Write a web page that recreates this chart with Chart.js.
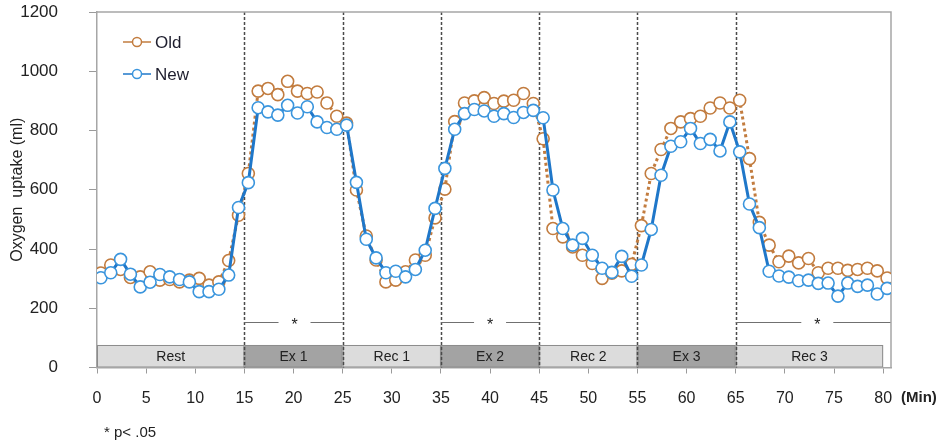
<!DOCTYPE html>
<html>
<head>
<meta charset="utf-8">
<script src="https://cdn.jsdelivr.net/npm/chart.js@4.4.1/dist/chart.umd.min.js"></script>
<style>
  html, body { margin: 0; padding: 0; background: #fff; }
  #wrap { width: 944px; height: 448px; }
</style>
</head>
<body>
<div id="wrap"><canvas id="chart" width="944" height="448"></canvas></div>
<script>
// one sample per minute
const oldValues = [
  319, 346, 331, 304, 306, 323, 295, 297, 289, 295, 301, 278, 289, 361, 514,
  655, 933, 942, 921, 966, 933, 925, 930, 893, 848, 825,
  599, 444, 363, 289, 295, 323, 363, 379, 505, 602,
  830, 893, 900, 911, 891, 899, 902, 925, 891, 772,
  469, 441, 407, 379, 351, 301, 318, 326, 348, 479,
  655, 736, 807, 829, 840, 848, 876, 893, 876, 902,
  705, 490, 413, 357, 376, 353, 368, 320, 335, 335, 328, 331, 335, 326, 302
];
const newValues = [
  303, 320, 365, 315, 272, 288, 314, 306, 297, 289, 256, 256, 264, 312, 540,
  624, 877, 863, 852, 885, 859, 880, 829, 810, 804, 818,
  625, 433, 370, 320, 325, 306, 331, 396, 537, 672,
  804, 857, 871, 866, 848, 857, 844, 861, 868, 843,
  599, 469, 413, 436, 379, 335, 321, 375, 308, 346,
  466, 649, 747, 762, 807, 756, 770, 731, 829, 728,
  552, 472, 325, 309, 305, 293, 295, 284, 285, 241, 285, 274, 278, 248, 267
];
const sampleOffset = 0.4; // samples sit a little right of each whole minute

const xTicks = [0, 5, 10, 15, 20, 25, 30, 35, 40, 45, 50, 55, 60, 65, 70, 75, 80];
const yTicks = [0, 200, 400, 600, 800, 1000, 1200];

const phaseNames = ['Rest', 'Ex 1', 'Rec 1', 'Ex 2', 'Rec 2', 'Ex 3', 'Rec 3'];
const phaseStart = [0, 15, 25, 35, 45, 55, 65];
const phaseEnd = [15, 25, 35, 45, 55, 65, 80];
const phaseExercise = [false, true, false, true, false, true, false];
const phaseBarTop = 76;

const boundaries = [15, 25, 35, 45, 55, 65];

const sigFrom = [15, 35, 65];
const sigTo = [25, 45, 80.8];
const sigStar = [20.1, 40, 73.3];
const sigLevel = 152;

const OLD_COLOR = '#C27C3F';
const NEW_LINE = '#1F77C9';
const NEW_MARK = '#3A95DD';
const FONT = '"Liberation Sans", Arial, sans-serif';

const overlay = {
  id: 'overlay',
  beforeDatasetsDraw(chart) {
    const { ctx, chartArea: a, scales: { x, y } } = chart;
    ctx.save();

    // phase bar
    const top = y.getPixelForValue(phaseBarTop), bot = y.getPixelForValue(0);
    phaseNames.forEach((name, i) => {
      const l = x.getPixelForValue(phaseStart[i]), r = x.getPixelForValue(phaseEnd[i]);
      ctx.fillStyle = phaseExercise[i] ? '#a3a3a3' : '#dcdcdc';
      ctx.fillRect(l, top, r - l, bot - top);
      ctx.strokeStyle = '#8c8c8c';
      ctx.lineWidth = 1;
      ctx.strokeRect(l + 0.5, top + 0.5, r - l - 1, bot - top - 1);
      ctx.fillStyle = '#222';
      ctx.font = '14px ' + FONT;
      ctx.textAlign = 'center';
      ctx.textBaseline = 'middle';
      ctx.fillText(name, (l + r) / 2, (top + bot) / 2 + 1);
    });

    // phase boundaries
    ctx.strokeStyle = '#4a4a4a';
    ctx.lineWidth = 1.5;
    ctx.setLineDash([3, 2]);
    boundaries.forEach(b => {
      const px = Math.round(x.getPixelForValue(b)) + 0.5;
      ctx.beginPath();
      ctx.moveTo(px, a.top);
      ctx.lineTo(px, a.bottom);
      ctx.stroke();
    });
    ctx.setLineDash([]);

    // significance brackets
    const sy = Math.round(y.getPixelForValue(sigLevel)) + 0.5;
    ctx.strokeStyle = '#707070';
    ctx.lineWidth = 1;
    sigFrom.forEach((f, i) => {
      const l = x.getPixelForValue(f), r = x.getPixelForValue(sigTo[i]);
      const m = x.getPixelForValue(sigStar[i]);
      ctx.beginPath();
      ctx.moveTo(l, sy); ctx.lineTo(m - 16, sy);
      ctx.moveTo(m + 16, sy); ctx.lineTo(r, sy);
      ctx.stroke();
      ctx.fillStyle = '#222';
      ctx.font = '16px ' + FONT;
      ctx.textAlign = 'center';
      ctx.textBaseline = 'middle';
      ctx.fillText('*', m, sy + 3);
    });

    // frame top and right
    ctx.strokeStyle = '#a6a6a6';
    ctx.lineWidth = 1.5;
    ctx.beginPath();
    ctx.moveTo(a.left, a.top);
    ctx.lineTo(a.right, a.top);
    ctx.lineTo(a.right, a.bottom);
    ctx.stroke();
    ctx.restore();
  },
  afterDraw(chart) {
    const { ctx } = chart;
    ctx.save();
    // legend
    const items = [
      { label: 'Old', line: OLD_COLOR, mark: OLD_COLOR, y: 42 },
      { label: 'New', line: NEW_LINE, mark: NEW_MARK, y: 74 }
    ];
    items.forEach(it => {
      ctx.strokeStyle = it.line;
      ctx.lineWidth = 1.5;
      ctx.beginPath();
      ctx.moveTo(123, it.y); ctx.lineTo(151, it.y);
      ctx.stroke();
      ctx.fillStyle = '#fff';
      ctx.strokeStyle = it.mark;
      ctx.beginPath();
      ctx.arc(137, it.y, 4.5, 0, Math.PI * 2);
      ctx.fill(); ctx.stroke();
      ctx.fillStyle = '#1e1e2e';
      ctx.font = '17px ' + FONT;
      ctx.textAlign = 'left';
      ctx.textBaseline = 'middle';
      ctx.fillText(it.label, 155, it.y + 1);
    });
    // axis unit + footnote
    ctx.fillStyle = '#222';
    ctx.font = 'bold 15px ' + FONT;
    ctx.textAlign = 'left';
    ctx.textBaseline = 'middle';
    ctx.fillText('(Min)', 901, 398);
    ctx.font = '15px ' + FONT;
    ctx.fillText('* p< .05', 104, 433);
    ctx.restore();
  }
};

const toPoints = vals => vals.map((v, i) => ({ x: i + sampleOffset, y: v }));

new Chart(document.getElementById('chart'), {
  type: 'line',
  data: {
    datasets: [
      {
        label: 'New', data: toPoints(newValues), order: 0,
        borderColor: NEW_LINE, borderWidth: 3,
        pointRadius: 6, pointBorderWidth: 1.6,
        pointBorderColor: NEW_MARK, pointBackgroundColor: '#fff',
        tension: 0
      },
      {
        label: 'Old', data: toPoints(oldValues), order: 1,
        borderColor: OLD_COLOR, borderWidth: 3, borderDash: [3, 3],
        pointRadius: 6, pointBorderWidth: 1.6,
        pointBorderColor: OLD_COLOR, pointBackgroundColor: '#fff',
        tension: 0
      }
    ]
  },
  options: {
    responsive: false,
    animation: false,
    devicePixelRatio: 1,
    layout: { padding: { top: 12, right: 53, left: 0, bottom: 0 } },
    plugins: { legend: { display: false }, tooltip: { enabled: false } },
    scales: {
      x: {
        type: 'linear', min: 0, max: 80.8,
        afterBuildTicks: s => { s.ticks = xTicks.map(v => ({ value: v })); },
        afterFit: s => { s.height = 80.5; s.paddingLeft = 0; s.paddingRight = 0; },
        ticks: { color: '#222', font: { family: FONT, size: 16 }, padding: 15, maxRotation: 0, autoSkip: false, callback: v => String(v) },
        grid: { drawOnChartArea: false, tickLength: 6, color: '#9a9a9a' },
        border: { color: '#a6a6a6', width: 1.5 }
      },
      y: {
        min: 0, max: 1200,
        afterBuildTicks: s => { s.ticks = yTicks.map(v => ({ value: v })); },
        afterFit: s => { s.width = 97; s.paddingTop = 0; s.paddingBottom = 0; },
        ticks: { color: '#222', font: { family: FONT, size: 17 }, padding: 31, callback: v => String(v) },
        grid: { drawOnChartArea: false, tickLength: 8, color: '#9a9a9a' },
        border: { color: '#a6a6a6', width: 1.5 },
        title: { display: true, text: 'Oxygen  uptake (ml)', color: '#222', font: { family: FONT, size: 16 }, padding: { top: 8, bottom: 0 } }
      }
    }
  },
  plugins: [overlay]
});
</script>
</body>
</html>
